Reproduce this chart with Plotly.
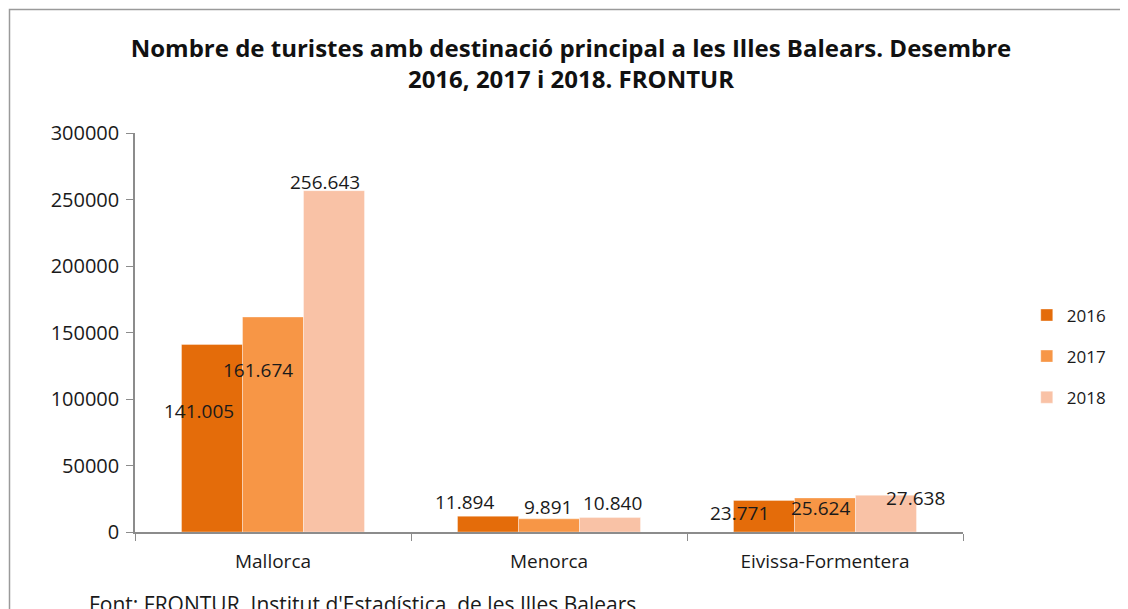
import plotly.graph_objects as go

categories = ["Mallorca", "Menorca", "Eivissa-Formentera"]
years = ["2016", "2017", "2018"]
v2016 = [141005, 11894, 23771]
v2017 = [161674, 9891, 25624]
v2018 = [256643, 10840, 27638]
series = [v2016, v2017, v2018]
colors = ["#E46C0A", "#F79646", "#F9C2A6"]
yticks = [0, 50000, 100000, 150000, 200000, 250000, 300000]

# label offsets (px) relative to the top-centre of each bar: [series][category]
label_dx = [[-13, -24, -24.5], [-15.5, -1.5, -5], [-8.5, 2.5, 30]]
label_dy = [[-67, 14, -13], [-53, 12, -10], [9, 15, -3]]

OFF = 8  # page body margin
W, H = 1128, 609
# target page positions of the plot area
PX0, PX1, PY0, PY1 = 135, 963, 133, 532
L = PX0 - OFF
R = W - (PX1 - OFF)
T = PY0 - OFF
B = H - (PY1 - OFF)
plot_w = PX1 - PX0
plot_h = PY1 - PY0
bargap = 0.337
bar_px = plot_w / len(categories) * (1 - bargap) / len(years)


def px_to_paper_x(px):
    return (px - PX0) / plot_w


def px_to_paper_y(py):
    return (PY1 - py) / plot_h


FONT = "Open Sans"
fig = go.Figure()
for i, (yr, vals) in enumerate(zip(years, series)):
    fig.add_trace(go.Bar(
        x=categories, y=vals, name=yr, legendgroup=yr,
        marker=dict(color=colors[i], line=dict(color="rgba(255,255,255,0.6)", width=0.6)),
        hoverinfo="x+y+name",
    ))

annotations = []
for i, vals in enumerate(series):
    bar_off = (i - 1) * bar_px
    for j, v in enumerate(vals):
        annotations.append(dict(
            x=categories[j], y=v, xref="x", yref="y",
            text=f"{v:,}".replace(",", "."),
            showarrow=False, xanchor="center", yanchor="middle",
            xshift=bar_off + label_dx[i][j], yshift=label_dy[i][j],
            font=dict(family=FONT, size=19, color="#1a1a1a"),
        ))

annotations.append(dict(
    xref="paper", yref="paper", x=px_to_paper_x(87), y=px_to_paper_y(604),
    xanchor="left", yanchor="middle", showarrow=False,
    text="Font: FRONTUR. Institut d'Estadística  de les Illes Balears",
    font=dict(family=FONT, size=21, color="#1a1a1a"),
))

frame = dict(
    type="rect", xref="paper", yref="paper", layer="below",
    x0=px_to_paper_x(9.5), x1=px_to_paper_x(W + 20),
    y0=px_to_paper_y(H + 20), y1=px_to_paper_y(9.5),
    line=dict(color="#9a9a9a", width=1.5), fillcolor="rgba(0,0,0,0)",
)

fig.update_layout(
    width=W, height=H,
    margin=dict(l=L, r=R, t=T, b=B, pad=0),
    paper_bgcolor="white", plot_bgcolor="white",
    barmode="group", bargap=bargap, bargroupgap=0,
    title=dict(
        text="Nombre de turistes amb destinació principal a les Illes Balears. Desembre<br>2016, 2017 i 2018. FRONTUR",
        x=(571 - OFF) / W, xanchor="center", xref="container",
        y=1 - 48.5 / H, yanchor="middle", yref="container",
        font=dict(family=FONT, size=24, color="#111111", weight="bold"),
    ),
    font=dict(family=FONT, color="#1a1a1a"),
    xaxis=dict(
        showline=True, linecolor="#8c8c8c", linewidth=1.5,
        ticks="outside", tickson="boundaries", ticklen=7, tickcolor="#8c8c8c",
        showgrid=False, tickfont=dict(family=FONT, size=19, color="#1a1a1a"),
        ticklabelstandoff=11,
    ),
    yaxis=dict(
        range=[0, 300000], tickvals=yticks, tickformat="d",
        showline=True, linecolor="#8c8c8c", linewidth=1.5,
        ticks="outside", ticklen=7, tickcolor="#8c8c8c",
        showgrid=False, zeroline=False,
        tickfont=dict(family=FONT, size=20, color="#1a1a1a"),
        ticklabelstandoff=3,
    ),
    legend=dict(
        x=1.074 + 2.5 / 828, xanchor="left", y=0.44, yanchor="middle",
        font=dict(family=FONT, size=17, color="#1a1a1a"),
        tracegroupgap=16, bgcolor="rgba(0,0,0,0)",
    ),
    annotations=annotations,
    shapes=[frame],
)

fig.write_html("out.html")
